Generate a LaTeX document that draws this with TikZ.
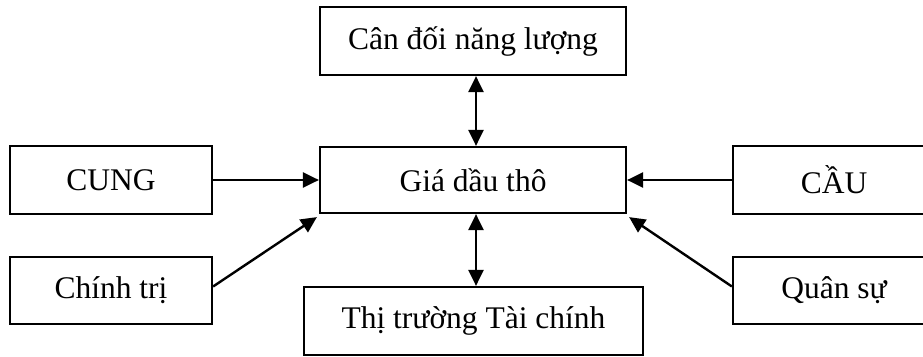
\documentclass[tikz,border=0pt]{standalone}
\usepackage{fontspec}
\setmainfont{Liberation Serif}
\usetikzlibrary{arrows.meta}
\begin{document}
\begin{tikzpicture}[x=1pt,y=-1pt,
  box/.style={draw=black,line width=2.2pt,fill=white,inner sep=0pt,
    font=\fontsize{31.5}{36}\selectfont},
  tip/.style={Triangle[length=16pt,width=15pt]},
  arr/.style={line width=2.4pt,-{Triangle[length=16pt,width=15pt]}},
  biarr/.style={line width=2.4pt,{Triangle[length=16pt,width=15pt]}-{Triangle[length=16pt,width=15pt]}}]
  \useasboundingbox (0,0) rectangle (923,356);
  \fill[white] (0,0) rectangle (923,356);
  \node[box,minimum width=306pt,minimum height=68pt] (top) at (473,41) {Cân đối năng lượng};
  \node[box,minimum width=306pt,minimum height=66pt] (gia) at (473,180) {Giá dầu thô};
  \node[box,minimum width=202pt,minimum height=68pt] (cung) at (111,180) {CUNG};
  \node[box,minimum width=202pt,minimum height=67pt] (chinh) at (111,290.5) {Chính trị};
  \node[box,minimum width=202pt,minimum height=68pt] (cau) at (834,180) {CẦU};
  \node[box,minimum width=202pt,minimum height=67pt] (quan) at (834,290.5) {Quân sự};
  \node[box,minimum width=339pt,minimum height=68pt] (tt) at (473.5,321) {Thị trường Tài chính};
  \draw[biarr] ([xshift=3pt]top.south) -- ([xshift=3pt]gia.north);
  \draw[biarr] ([xshift=3pt]gia.south) -- ([xshift=2.5pt]tt.north);
  \draw[arr] (cung.east) -- (gia.west);
  \draw[arr] (cau.west) -- (gia.east);
  \draw[arr] ([yshift=4pt]chinh.east) -- ([xshift=-2pt,yshift=-3pt]gia.south west);
  \draw[arr] ([yshift=4pt]quan.west) -- ([xshift=2pt,yshift=-3pt]gia.south east);
\end{tikzpicture}
\end{document}
